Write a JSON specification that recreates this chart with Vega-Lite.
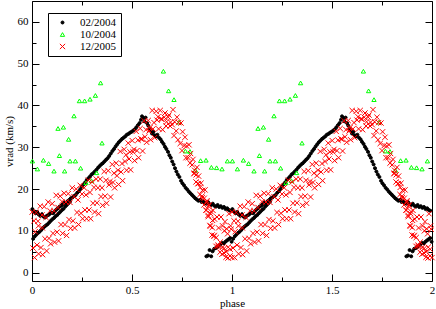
{
"$schema":"https://vega.github.io/schema/vega-lite/v6.json",
"width":400,"height":280,
"autosize":{"type":"none"},
"padding":{"left":32,"top":1,"right":4,"bottom":28},
"background":"white",
"config":{
 "font":"Liberation Serif",
 "view":{"stroke":"black","strokeWidth":1},
 "axis":{"labelFont":"Liberation Serif","titleFont":"Liberation Serif","labelFontSize":11,"titleFontSize":11,"titleFontWeight":"normal","labelColor":"black","titleColor":"black","tickColor":"black","tickWidth":1,"domain":false,"grid":false,"labelOverlap":false,"labelFlush":false},
 "legend":{"padding":4,"strokeColor":"black","fillColor":"white","labelFont":"Liberation Serif","labelFontSize":11,"labelColor":"black","rowPadding":0,"symbolOffset":5,"labelOffset":12,"symbolStrokeWidth":1,"cornerRadius":0}
},
"data":{"values":[
{"s":"02/2004","p":0.545,"v":36.6},{"s":"02/2004","p":0.550,"v":37.4},{"s":"02/2004","p":0.556,"v":37.0},{"s":"02/2004","p":0.562,"v":36.2},{"s":"02/2004","p":0.568,"v":37.1},{"s":"02/2004","p":0.575,"v":35.8},{"s":"02/2004","p":0.581,"v":35.2},{"s":"02/2004","p":0.588,"v":34.4},{"s":"02/2004","p":0.594,"v":33.9},{"s":"02/2004","p":0.600,"v":33.3},{"s":"02/2004","p":0.607,"v":33.7},{"s":"02/2004","p":0.613,"v":32.9},{"s":"02/2004","p":0.620,"v":32.6},{"s":"02/2004","p":0.627,"v":33.0},{"s":"02/2004","p":0.635,"v":32.3},{"s":"02/2004","p":0.643,"v":31.9},{"s":"02/2004","p":0.650,"v":31.3},{"s":"02/2004","p":0.658,"v":30.8},{"s":"02/2004","p":0.665,"v":30.1},{"s":"02/2004","p":0.672,"v":29.6},{"s":"02/2004","p":0.680,"v":28.9},{"s":"02/2004","p":0.687,"v":28.1},{"s":"02/2004","p":0.694,"v":27.5},{"s":"02/2004","p":0.701,"v":26.6},{"s":"02/2004","p":0.708,"v":25.9},{"s":"02/2004","p":0.715,"v":25.0},{"s":"02/2004","p":0.722,"v":24.2},{"s":"02/2004","p":0.729,"v":23.5},{"s":"02/2004","p":0.737,"v":22.9},{"s":"02/2004","p":0.745,"v":22.0},{"s":"02/2004","p":0.752,"v":21.4},{"s":"02/2004","p":0.760,"v":20.9},{"s":"02/2004","p":0.768,"v":20.3},{"s":"02/2004","p":0.776,"v":19.9},{"s":"02/2004","p":0.784,"v":19.4},{"s":"02/2004","p":0.792,"v":19.0},{"s":"02/2004","p":0.800,"v":18.6},{"s":"02/2004","p":0.808,"v":18.2},{"s":"02/2004","p":0.816,"v":17.8},{"s":"02/2004","p":0.824,"v":17.5},{"s":"02/2004","p":0.832,"v":17.2},{"s":"02/2004","p":0.840,"v":17.4},{"s":"02/2004","p":0.848,"v":16.9},{"s":"02/2004","p":0.856,"v":17.1},{"s":"02/2004","p":0.864,"v":16.7},{"s":"02/2004","p":0.872,"v":16.5},{"s":"02/2004","p":0.880,"v":16.9},{"s":"02/2004","p":0.888,"v":16.4},{"s":"02/2004","p":0.896,"v":16.2},{"s":"02/2004","p":0.904,"v":16.5},{"s":"02/2004","p":0.912,"v":16.0},{"s":"02/2004","p":0.920,"v":15.8},{"s":"02/2004","p":0.928,"v":16.2},{"s":"02/2004","p":0.936,"v":15.7},{"s":"02/2004","p":0.944,"v":15.9},{"s":"02/2004","p":0.952,"v":15.5},{"s":"02/2004","p":0.960,"v":15.7},{"s":"02/2004","p":0.968,"v":15.2},{"s":"02/2004","p":0.976,"v":15.4},{"s":"02/2004","p":0.984,"v":15.0},{"s":"02/2004","p":0.992,"v":14.8},
{"s":"02/2004","p":0.002,"v":15.2},{"s":"02/2004","p":0.010,"v":14.6},{"s":"02/2004","p":0.018,"v":14.2},{"s":"02/2004","p":0.026,"v":14.5},{"s":"02/2004","p":0.034,"v":13.9},{"s":"02/2004","p":0.042,"v":13.6},{"s":"02/2004","p":0.050,"v":14.0},{"s":"02/2004","p":0.058,"v":13.4},{"s":"02/2004","p":0.066,"v":13.2},{"s":"02/2004","p":0.074,"v":13.6},{"s":"02/2004","p":0.082,"v":13.8},{"s":"02/2004","p":0.090,"v":14.1},{"s":"02/2004","p":0.098,"v":14.4},{"s":"02/2004","p":0.106,"v":14.2},{"s":"02/2004","p":0.114,"v":14.7},{"s":"02/2004","p":0.122,"v":15.1},{"s":"02/2004","p":0.130,"v":15.4},{"s":"02/2004","p":0.138,"v":15.8},{"s":"02/2004","p":0.146,"v":16.0},{"s":"02/2004","p":0.154,"v":16.4},{"s":"02/2004","p":0.162,"v":16.8},{"s":"02/2004","p":0.170,"v":16.6},{"s":"02/2004","p":0.178,"v":17.1},{"s":"02/2004","p":0.186,"v":17.4},{"s":"02/2004","p":0.194,"v":17.8},
{"s":"02/2004","p":0.202,"v":18.0},{"s":"02/2004","p":0.210,"v":18.3},{"s":"02/2004","p":0.218,"v":18.6},{"s":"02/2004","p":0.226,"v":19.1},{"s":"02/2004","p":0.234,"v":19.5},{"s":"02/2004","p":0.242,"v":20.0},{"s":"02/2004","p":0.250,"v":20.6},{"s":"02/2004","p":0.258,"v":21.1},{"s":"02/2004","p":0.266,"v":21.6},{"s":"02/2004","p":0.274,"v":22.2},{"s":"02/2004","p":0.282,"v":22.6},{"s":"02/2004","p":0.290,"v":23.0},{"s":"02/2004","p":0.298,"v":23.5},{"s":"02/2004","p":0.306,"v":23.8},{"s":"02/2004","p":0.314,"v":24.2},{"s":"02/2004","p":0.322,"v":24.6},{"s":"02/2004","p":0.330,"v":25.1},{"s":"02/2004","p":0.338,"v":25.5},{"s":"02/2004","p":0.346,"v":25.9},{"s":"02/2004","p":0.354,"v":26.2},{"s":"02/2004","p":0.362,"v":26.6},{"s":"02/2004","p":0.370,"v":27.0},{"s":"02/2004","p":0.378,"v":27.4},{"s":"02/2004","p":0.386,"v":27.9},{"s":"02/2004","p":0.394,"v":28.5},{"s":"02/2004","p":0.402,"v":29.1},{"s":"02/2004","p":0.410,"v":29.6},{"s":"02/2004","p":0.418,"v":30.2},{"s":"02/2004","p":0.426,"v":30.7},{"s":"02/2004","p":0.434,"v":31.2},{"s":"02/2004","p":0.442,"v":31.6},{"s":"02/2004","p":0.450,"v":32.0},{"s":"02/2004","p":0.458,"v":32.3},{"s":"02/2004","p":0.466,"v":32.6},{"s":"02/2004","p":0.474,"v":33.0},{"s":"02/2004","p":0.482,"v":33.2},{"s":"02/2004","p":0.490,"v":33.5},{"s":"02/2004","p":0.498,"v":33.7},{"s":"02/2004","p":0.506,"v":34.0},{"s":"02/2004","p":0.514,"v":34.3},{"s":"02/2004","p":0.522,"v":34.8},{"s":"02/2004","p":0.530,"v":35.3},{"s":"02/2004","p":0.538,"v":35.8},
{"s":"02/2004","p":0.872,"v":3.9},{"s":"02/2004","p":0.880,"v":4.1},{"s":"02/2004","p":0.888,"v":5.4},{"s":"02/2004","p":0.896,"v":3.9},{"s":"02/2004","p":0.903,"v":5.1},{"s":"02/2004","p":0.911,"v":5.7},{"s":"02/2004","p":0.919,"v":5.9},{"s":"02/2004","p":0.927,"v":6.2},{"s":"02/2004","p":0.935,"v":6.5},{"s":"02/2004","p":0.943,"v":6.8},{"s":"02/2004","p":0.951,"v":7.1},{"s":"02/2004","p":0.959,"v":7.0},{"s":"02/2004","p":0.967,"v":7.4},{"s":"02/2004","p":0.975,"v":7.7},{"s":"02/2004","p":0.983,"v":8.0},{"s":"02/2004","p":0.991,"v":8.3},{"s":"02/2004","p":0.998,"v":7.4},{"s":"02/2004","p":0.006,"v":8.1},{"s":"02/2004","p":0.014,"v":8.7},{"s":"02/2004","p":0.022,"v":9.1},{"s":"02/2004","p":0.030,"v":9.5},{"s":"02/2004","p":0.038,"v":9.8},{"s":"02/2004","p":0.046,"v":10.2},{"s":"02/2004","p":0.054,"v":10.6},{"s":"02/2004","p":0.062,"v":11.0},{"s":"02/2004","p":0.070,"v":11.3},{"s":"02/2004","p":0.078,"v":11.6},{"s":"02/2004","p":0.086,"v":12.0},{"s":"02/2004","p":0.094,"v":12.4},{"s":"02/2004","p":0.102,"v":12.8},{"s":"02/2004","p":0.110,"v":13.1},{"s":"02/2004","p":0.118,"v":13.5},{"s":"02/2004","p":0.126,"v":13.8},{"s":"02/2004","p":0.134,"v":14.2},{"s":"02/2004","p":0.142,"v":14.6},{"s":"02/2004","p":0.150,"v":15.0},{"s":"02/2004","p":0.158,"v":15.3},{"s":"02/2004","p":0.166,"v":15.8},{"s":"02/2004","p":0.174,"v":16.2},{"s":"02/2004","p":0.182,"v":16.6},{"s":"02/2004","p":0.190,"v":17.0},
{"s":"02/2004","p":1.545,"v":36.6},{"s":"02/2004","p":1.550,"v":37.4},{"s":"02/2004","p":1.556,"v":37.0},{"s":"02/2004","p":1.562,"v":36.2},{"s":"02/2004","p":1.568,"v":37.1},{"s":"02/2004","p":1.575,"v":35.8},{"s":"02/2004","p":1.581,"v":35.2},{"s":"02/2004","p":1.588,"v":34.4},{"s":"02/2004","p":1.594,"v":33.9},{"s":"02/2004","p":1.600,"v":33.3},{"s":"02/2004","p":1.607,"v":33.7},{"s":"02/2004","p":1.613,"v":32.9},{"s":"02/2004","p":1.620,"v":32.6},{"s":"02/2004","p":1.627,"v":33.0},{"s":"02/2004","p":1.635,"v":32.3},{"s":"02/2004","p":1.643,"v":31.9},{"s":"02/2004","p":1.650,"v":31.3},{"s":"02/2004","p":1.658,"v":30.8},{"s":"02/2004","p":1.665,"v":30.1},{"s":"02/2004","p":1.672,"v":29.6},{"s":"02/2004","p":1.680,"v":28.9},{"s":"02/2004","p":1.687,"v":28.1},{"s":"02/2004","p":1.694,"v":27.5},{"s":"02/2004","p":1.701,"v":26.6},{"s":"02/2004","p":1.708,"v":25.9},{"s":"02/2004","p":1.715,"v":25.0},{"s":"02/2004","p":1.722,"v":24.2},{"s":"02/2004","p":1.729,"v":23.5},{"s":"02/2004","p":1.737,"v":22.9},{"s":"02/2004","p":1.745,"v":22.0},{"s":"02/2004","p":1.752,"v":21.4},{"s":"02/2004","p":1.760,"v":20.9},{"s":"02/2004","p":1.768,"v":20.3},{"s":"02/2004","p":1.776,"v":19.9},{"s":"02/2004","p":1.784,"v":19.4},{"s":"02/2004","p":1.792,"v":19.0},{"s":"02/2004","p":1.800,"v":18.6},{"s":"02/2004","p":1.808,"v":18.2},{"s":"02/2004","p":1.816,"v":17.8},{"s":"02/2004","p":1.824,"v":17.5},{"s":"02/2004","p":1.832,"v":17.2},{"s":"02/2004","p":1.840,"v":17.4},{"s":"02/2004","p":1.848,"v":16.9},{"s":"02/2004","p":1.856,"v":17.1},{"s":"02/2004","p":1.864,"v":16.7},{"s":"02/2004","p":1.872,"v":16.5},{"s":"02/2004","p":1.880,"v":16.9},{"s":"02/2004","p":1.888,"v":16.4},{"s":"02/2004","p":1.896,"v":16.2},{"s":"02/2004","p":1.904,"v":16.5},{"s":"02/2004","p":1.912,"v":16.0},{"s":"02/2004","p":1.920,"v":15.8},{"s":"02/2004","p":1.928,"v":16.2},{"s":"02/2004","p":1.936,"v":15.7},{"s":"02/2004","p":1.944,"v":15.9},{"s":"02/2004","p":1.952,"v":15.5},{"s":"02/2004","p":1.960,"v":15.7},{"s":"02/2004","p":1.968,"v":15.2},{"s":"02/2004","p":1.976,"v":15.4},{"s":"02/2004","p":1.984,"v":15.0},{"s":"02/2004","p":1.992,"v":14.8},
{"s":"02/2004","p":1.002,"v":15.2},{"s":"02/2004","p":1.010,"v":14.6},{"s":"02/2004","p":1.018,"v":14.2},{"s":"02/2004","p":1.026,"v":14.5},{"s":"02/2004","p":1.034,"v":13.9},{"s":"02/2004","p":1.042,"v":13.6},{"s":"02/2004","p":1.050,"v":14.0},{"s":"02/2004","p":1.058,"v":13.4},{"s":"02/2004","p":1.066,"v":13.2},{"s":"02/2004","p":1.074,"v":13.6},{"s":"02/2004","p":1.082,"v":13.8},{"s":"02/2004","p":1.090,"v":14.1},{"s":"02/2004","p":1.098,"v":14.4},{"s":"02/2004","p":1.106,"v":14.2},{"s":"02/2004","p":1.114,"v":14.7},{"s":"02/2004","p":1.122,"v":15.1},{"s":"02/2004","p":1.130,"v":15.4},{"s":"02/2004","p":1.138,"v":15.8},{"s":"02/2004","p":1.146,"v":16.0},{"s":"02/2004","p":1.154,"v":16.4},{"s":"02/2004","p":1.162,"v":16.8},{"s":"02/2004","p":1.170,"v":16.6},{"s":"02/2004","p":1.178,"v":17.1},{"s":"02/2004","p":1.186,"v":17.4},{"s":"02/2004","p":1.194,"v":17.8},
{"s":"02/2004","p":1.202,"v":18.0},{"s":"02/2004","p":1.210,"v":18.3},{"s":"02/2004","p":1.218,"v":18.6},{"s":"02/2004","p":1.226,"v":19.1},{"s":"02/2004","p":1.234,"v":19.5},{"s":"02/2004","p":1.242,"v":20.0},{"s":"02/2004","p":1.250,"v":20.6},{"s":"02/2004","p":1.258,"v":21.1},{"s":"02/2004","p":1.266,"v":21.6},{"s":"02/2004","p":1.274,"v":22.2},{"s":"02/2004","p":1.282,"v":22.6},{"s":"02/2004","p":1.290,"v":23.0},{"s":"02/2004","p":1.298,"v":23.5},{"s":"02/2004","p":1.306,"v":23.8},{"s":"02/2004","p":1.314,"v":24.2},{"s":"02/2004","p":1.322,"v":24.6},{"s":"02/2004","p":1.330,"v":25.1},{"s":"02/2004","p":1.338,"v":25.5},{"s":"02/2004","p":1.346,"v":25.9},{"s":"02/2004","p":1.354,"v":26.2},{"s":"02/2004","p":1.362,"v":26.6},{"s":"02/2004","p":1.370,"v":27.0},{"s":"02/2004","p":1.378,"v":27.4},{"s":"02/2004","p":1.386,"v":27.9},{"s":"02/2004","p":1.394,"v":28.5},{"s":"02/2004","p":1.402,"v":29.1},{"s":"02/2004","p":1.410,"v":29.6},{"s":"02/2004","p":1.418,"v":30.2},{"s":"02/2004","p":1.426,"v":30.7},{"s":"02/2004","p":1.434,"v":31.2},{"s":"02/2004","p":1.442,"v":31.6},{"s":"02/2004","p":1.450,"v":32.0},{"s":"02/2004","p":1.458,"v":32.3},{"s":"02/2004","p":1.466,"v":32.6},{"s":"02/2004","p":1.474,"v":33.0},{"s":"02/2004","p":1.482,"v":33.2},{"s":"02/2004","p":1.490,"v":33.5},{"s":"02/2004","p":1.498,"v":33.7},{"s":"02/2004","p":1.506,"v":34.0},{"s":"02/2004","p":1.514,"v":34.3},{"s":"02/2004","p":1.522,"v":34.8},{"s":"02/2004","p":1.530,"v":35.3},{"s":"02/2004","p":1.538,"v":35.8},
{"s":"02/2004","p":1.872,"v":3.9},{"s":"02/2004","p":1.880,"v":4.1},{"s":"02/2004","p":1.888,"v":5.4},{"s":"02/2004","p":1.896,"v":3.9},{"s":"02/2004","p":1.903,"v":5.1},{"s":"02/2004","p":1.911,"v":5.7},{"s":"02/2004","p":1.919,"v":5.9},{"s":"02/2004","p":1.927,"v":6.2},{"s":"02/2004","p":1.935,"v":6.5},{"s":"02/2004","p":1.943,"v":6.8},{"s":"02/2004","p":1.951,"v":7.1},{"s":"02/2004","p":1.959,"v":7.0},{"s":"02/2004","p":1.967,"v":7.4},{"s":"02/2004","p":1.975,"v":7.7},{"s":"02/2004","p":1.983,"v":8.0},{"s":"02/2004","p":1.991,"v":8.3},{"s":"02/2004","p":1.998,"v":7.4},{"s":"02/2004","p":1.006,"v":8.1},{"s":"02/2004","p":1.014,"v":8.7},{"s":"02/2004","p":1.022,"v":9.1},{"s":"02/2004","p":1.030,"v":9.5},{"s":"02/2004","p":1.038,"v":9.8},{"s":"02/2004","p":1.046,"v":10.2},{"s":"02/2004","p":1.054,"v":10.6},{"s":"02/2004","p":1.062,"v":11.0},{"s":"02/2004","p":1.070,"v":11.3},{"s":"02/2004","p":1.078,"v":11.6},{"s":"02/2004","p":1.086,"v":12.0},{"s":"02/2004","p":1.094,"v":12.4},{"s":"02/2004","p":1.102,"v":12.8},{"s":"02/2004","p":1.110,"v":13.1},{"s":"02/2004","p":1.118,"v":13.5},{"s":"02/2004","p":1.126,"v":13.8},{"s":"02/2004","p":1.134,"v":14.2},{"s":"02/2004","p":1.142,"v":14.6},{"s":"02/2004","p":1.150,"v":15.0},{"s":"02/2004","p":1.158,"v":15.3},{"s":"02/2004","p":1.166,"v":15.8},{"s":"02/2004","p":1.174,"v":16.2},{"s":"02/2004","p":1.182,"v":16.6},{"s":"02/2004","p":1.190,"v":17.0},
{"s":"10/2004","p":0.002,"v":26.7},{"s":"10/2004","p":0.027,"v":24.8},{"s":"10/2004","p":0.057,"v":26.9},{"s":"10/2004","p":0.083,"v":26.1},{"s":"10/2004","p":0.110,"v":24.3},{"s":"10/2004","p":0.130,"v":34.5},{"s":"10/2004","p":0.137,"v":28.0},{"s":"10/2004","p":0.157,"v":34.8},{"s":"10/2004","p":0.163,"v":24.3},{"s":"10/2004","p":0.183,"v":31.9},{"s":"10/2004","p":0.190,"v":26.7},{"s":"10/2004","p":0.210,"v":37.5},{"s":"10/2004","p":0.217,"v":26.7},{"s":"10/2004","p":0.237,"v":41.1},{"s":"10/2004","p":0.243,"v":25.0},{"s":"10/2004","p":0.263,"v":41.1},{"s":"10/2004","p":0.270,"v":21.5},{"s":"10/2004","p":0.290,"v":41.5},{"s":"10/2004","p":0.297,"v":22.0},{"s":"10/2004","p":0.317,"v":42.4},{"s":"10/2004","p":0.323,"v":23.9},{"s":"10/2004","p":0.343,"v":45.4},{"s":"10/2004","p":0.350,"v":31.0},{"s":"10/2004","p":0.657,"v":48.2},{"s":"10/2004","p":0.683,"v":43.5},{"s":"10/2004","p":0.710,"v":41.4},{"s":"10/2004","p":0.737,"v":36.0},{"s":"10/2004","p":0.767,"v":29.1},{"s":"10/2004","p":0.790,"v":29.0},{"s":"10/2004","p":0.817,"v":24.5},{"s":"10/2004","p":0.843,"v":26.8},{"s":"10/2004","p":0.870,"v":26.9},{"s":"10/2004","p":0.897,"v":25.2},{"s":"10/2004","p":0.923,"v":25.1},{"s":"10/2004","p":0.950,"v":24.8},{"s":"10/2004","p":0.977,"v":26.7},
{"s":"10/2004","p":1.002,"v":26.7},{"s":"10/2004","p":1.027,"v":24.8},{"s":"10/2004","p":1.057,"v":26.9},{"s":"10/2004","p":1.083,"v":26.1},{"s":"10/2004","p":1.110,"v":24.3},{"s":"10/2004","p":1.130,"v":34.5},{"s":"10/2004","p":1.137,"v":28.0},{"s":"10/2004","p":1.157,"v":34.8},{"s":"10/2004","p":1.163,"v":24.3},{"s":"10/2004","p":1.183,"v":31.9},{"s":"10/2004","p":1.190,"v":26.7},{"s":"10/2004","p":1.210,"v":37.5},{"s":"10/2004","p":1.217,"v":26.7},{"s":"10/2004","p":1.237,"v":41.1},{"s":"10/2004","p":1.243,"v":25.0},{"s":"10/2004","p":1.263,"v":41.1},{"s":"10/2004","p":1.270,"v":21.5},{"s":"10/2004","p":1.290,"v":41.5},{"s":"10/2004","p":1.297,"v":22.0},{"s":"10/2004","p":1.317,"v":42.4},{"s":"10/2004","p":1.323,"v":23.9},{"s":"10/2004","p":1.343,"v":45.4},{"s":"10/2004","p":1.350,"v":31.0},{"s":"10/2004","p":1.657,"v":48.2},{"s":"10/2004","p":1.683,"v":43.5},{"s":"10/2004","p":1.710,"v":41.4},{"s":"10/2004","p":1.737,"v":36.0},{"s":"10/2004","p":1.767,"v":29.1},{"s":"10/2004","p":1.790,"v":29.0},{"s":"10/2004","p":1.817,"v":24.5},{"s":"10/2004","p":1.843,"v":26.8},{"s":"10/2004","p":1.870,"v":26.9},{"s":"10/2004","p":1.897,"v":25.2},{"s":"10/2004","p":1.923,"v":25.1},{"s":"10/2004","p":1.950,"v":24.8},{"s":"10/2004","p":1.977,"v":26.7},
{"s":"12/2005","p":0.001,"v":14.5},{"s":"12/2005","p":0.010,"v":12.4},{"s":"12/2005","p":0.021,"v":14.4},{"s":"12/2005","p":0.030,"v":12.3},{"s":"12/2005","p":0.041,"v":15.9},{"s":"12/2005","p":0.050,"v":13.8},{"s":"12/2005","p":0.061,"v":15.8},{"s":"12/2005","p":0.070,"v":13.2},{"s":"12/2005","p":0.081,"v":16.9},{"s":"12/2005","p":0.090,"v":14.8},{"s":"12/2005","p":0.101,"v":16.5},{"s":"12/2005","p":0.110,"v":14.8},{"s":"12/2005","p":0.121,"v":18.5},{"s":"12/2005","p":0.130,"v":15.6},{"s":"12/2005","p":0.141,"v":18.3},{"s":"12/2005","p":0.150,"v":17.0},{"s":"12/2005","p":0.161,"v":19.0},{"s":"12/2005","p":0.170,"v":16.9},{"s":"12/2005","p":0.181,"v":18.9},{"s":"12/2005","p":0.190,"v":16.8},{"s":"12/2005","p":0.201,"v":20.3},{"s":"12/2005","p":0.210,"v":18.2},{"s":"12/2005","p":0.221,"v":20.0},{"s":"12/2005","p":0.230,"v":17.4},{"s":"12/2005","p":0.241,"v":20.9},{"s":"12/2005","p":0.250,"v":18.8},{"s":"12/2005","p":0.261,"v":20.3},{"s":"12/2005","p":0.270,"v":18.6},{"s":"12/2005","p":0.281,"v":22.1},{"s":"12/2005","p":0.290,"v":19.2},{"s":"12/2005","p":0.301,"v":21.7},{"s":"12/2005","p":0.310,"v":20.4},{"s":"12/2005","p":0.321,"v":22.4},{"s":"12/2005","p":0.330,"v":20.3},{"s":"12/2005","p":0.341,"v":22.4},{"s":"12/2005","p":0.350,"v":20.3},{"s":"12/2005","p":0.361,"v":24.2},{"s":"12/2005","p":0.370,"v":22.1},{"s":"12/2005","p":0.381,"v":24.4},{"s":"12/2005","p":0.390,"v":21.8},{"s":"12/2005","p":0.401,"v":25.9},{"s":"12/2005","p":0.410,"v":23.8},{"s":"12/2005","p":0.421,"v":26.2},{"s":"12/2005","p":0.430,"v":24.5},{"s":"12/2005","p":0.441,"v":29.0},{"s":"12/2005","p":0.450,"v":26.1},{"s":"12/2005","p":0.461,"v":29.5},{"s":"12/2005","p":0.470,"v":28.2},{"s":"12/2005","p":0.481,"v":31.0},{"s":"12/2005","p":0.490,"v":28.9},{"s":"12/2005","p":0.501,"v":31.6},{"s":"12/2005","p":0.510,"v":29.5},{"s":"12/2005","p":0.521,"v":33.8},{"s":"12/2005","p":0.530,"v":31.7},{"s":"12/2005","p":0.541,"v":34.5},{"s":"12/2005","p":0.550,"v":31.9},{"s":"12/2005","p":0.561,"v":36.3},{"s":"12/2005","p":0.570,"v":34.2},{"s":"12/2005","p":0.581,"v":36.4},{"s":"12/2005","p":0.590,"v":34.7},{"s":"12/2005","p":0.601,"v":38.8},{"s":"12/2005","p":0.610,"v":35.9},{"s":"12/2005","p":0.621,"v":38.6},{"s":"12/2005","p":0.630,"v":37.3},{"s":"12/2005","p":0.641,"v":38.8},{"s":"12/2005","p":0.650,"v":36.7},{"s":"12/2005","p":0.661,"v":37.2},{"s":"12/2005","p":0.670,"v":35.1},{"s":"12/2005","p":0.681,"v":37.2},{"s":"12/2005","p":0.690,"v":35.1},{"s":"12/2005","p":0.701,"v":35.4},{"s":"12/2005","p":0.710,"v":32.8},{"s":"12/2005","p":0.721,"v":33.9},{"s":"12/2005","p":0.730,"v":31.8},{"s":"12/2005","p":0.741,"v":30.9},{"s":"12/2005","p":0.750,"v":29.2},{"s":"12/2005","p":0.761,"v":30.4},{"s":"12/2005","p":0.770,"v":27.5},{"s":"12/2005","p":0.781,"v":27.5},{"s":"12/2005","p":0.790,"v":26.2},{"s":"12/2005","p":0.801,"v":25.8},{"s":"12/2005","p":0.810,"v":23.7},{"s":"12/2005","p":0.811,"v":23.8},{"s":"12/2005","p":0.820,"v":21.7},{"s":"12/2005","p":0.821,"v":23.4},{"s":"12/2005","p":0.830,"v":21.3},{"s":"12/2005","p":0.831,"v":21.3},{"s":"12/2005","p":0.840,"v":18.7},{"s":"12/2005","p":0.841,"v":20.4},{"s":"12/2005","p":0.850,"v":18.3},{"s":"12/2005","p":0.851,"v":17.9},{"s":"12/2005","p":0.860,"v":16.2},{"s":"12/2005","p":0.861,"v":17.8},{"s":"12/2005","p":0.870,"v":14.9},{"s":"12/2005","p":0.871,"v":15.0},{"s":"12/2005","p":0.880,"v":13.7},{"s":"12/2005","p":0.881,"v":13.4},{"s":"12/2005","p":0.890,"v":11.3},{"s":"12/2005","p":0.891,"v":11.1},{"s":"12/2005","p":0.900,"v":9.0},{"s":"12/2005","p":0.901,"v":10.8},{"s":"12/2005","p":0.910,"v":8.7},{"s":"12/2005","p":0.911,"v":8.9},{"s":"12/2005","p":0.920,"v":6.3},{"s":"12/2005","p":0.921,"v":8.4},{"s":"12/2005","p":0.930,"v":6.3},{"s":"12/2005","p":0.931,"v":6.6},{"s":"12/2005","p":0.940,"v":4.9},{"s":"12/2005","p":0.941,"v":7.3},{"s":"12/2005","p":0.950,"v":4.4},{"s":"12/2005","p":0.951,"v":6.0},{"s":"12/2005","p":0.960,"v":4.7},{"s":"12/2005","p":0.961,"v":5.8},{"s":"12/2005","p":0.970,"v":3.7},{"s":"12/2005","p":0.971,"v":5.0},{"s":"12/2005","p":0.980,"v":3.5},{"s":"12/2005","p":0.981,"v":6.1},{"s":"12/2005","p":0.990,"v":4.0},{"s":"12/2005","p":0.991,"v":5.6},{"s":"12/2005","p":1.000,"v":3.6},
{"s":"12/2005","p":0.005,"v":5.9},{"s":"12/2005","p":0.013,"v":3.6},{"s":"12/2005","p":0.025,"v":6.6},{"s":"12/2005","p":0.033,"v":4.5},{"s":"12/2005","p":0.045,"v":6.0},{"s":"12/2005","p":0.053,"v":4.3},{"s":"12/2005","p":0.065,"v":8.1},{"s":"12/2005","p":0.073,"v":5.2},{"s":"12/2005","p":0.085,"v":8.2},{"s":"12/2005","p":0.093,"v":6.9},{"s":"12/2005","p":0.105,"v":9.4},{"s":"12/2005","p":0.113,"v":7.3},{"s":"12/2005","p":0.125,"v":9.7},{"s":"12/2005","p":0.133,"v":7.6},{"s":"12/2005","p":0.145,"v":11.5},{"s":"12/2005","p":0.153,"v":9.4},{"s":"12/2005","p":0.165,"v":11.5},{"s":"12/2005","p":0.173,"v":8.9},{"s":"12/2005","p":0.185,"v":12.7},{"s":"12/2005","p":0.193,"v":10.6},{"s":"12/2005","p":0.205,"v":12.4},{"s":"12/2005","p":0.213,"v":10.7},{"s":"12/2005","p":0.225,"v":14.4},{"s":"12/2005","p":0.233,"v":11.5},{"s":"12/2005","p":0.245,"v":14.2},{"s":"12/2005","p":0.253,"v":12.9},{"s":"12/2005","p":0.265,"v":15.0},{"s":"12/2005","p":0.273,"v":12.9},{"s":"12/2005","p":0.285,"v":15.0},{"s":"12/2005","p":0.293,"v":12.9},{"s":"12/2005","p":0.305,"v":16.6},{"s":"12/2005","p":0.313,"v":14.5},{"s":"12/2005","p":0.325,"v":16.7},{"s":"12/2005","p":0.333,"v":14.1},{"s":"12/2005","p":0.345,"v":18.2},{"s":"12/2005","p":0.353,"v":16.1},{"s":"12/2005","p":0.365,"v":18.3},{"s":"12/2005","p":0.373,"v":16.6},{"s":"12/2005","p":0.385,"v":21.0},{"s":"12/2005","p":0.393,"v":18.1},{"s":"12/2005","p":0.405,"v":21.6},{"s":"12/2005","p":0.413,"v":20.3},{"s":"12/2005","p":0.425,"v":23.2},{"s":"12/2005","p":0.433,"v":21.1},{"s":"12/2005","p":0.445,"v":24.1},{"s":"12/2005","p":0.453,"v":22.0},{"s":"12/2005","p":0.465,"v":26.6},{"s":"12/2005","p":0.473,"v":24.5},{"s":"12/2005","p":0.485,"v":27.2},{"s":"12/2005","p":0.493,"v":24.6},{"s":"12/2005","p":0.505,"v":28.9},{"s":"12/2005","p":0.513,"v":26.8},{"s":"12/2005","p":0.525,"v":29.2},{"s":"12/2005","p":0.533,"v":27.5},{"s":"12/2005","p":0.545,"v":32.0},{"s":"12/2005","p":0.553,"v":29.1},{"s":"12/2005","p":0.565,"v":32.5},{"s":"12/2005","p":0.573,"v":31.2},{"s":"12/2005","p":0.585,"v":33.9},{"s":"12/2005","p":0.593,"v":31.8},{"s":"12/2005","p":0.605,"v":34.4},{"s":"12/2005","p":0.613,"v":32.3},{"s":"12/2005","p":0.625,"v":36.5},{"s":"12/2005","p":0.633,"v":34.4},{"s":"12/2005","p":0.645,"v":36.8},{"s":"12/2005","p":0.653,"v":34.2},{"s":"12/2005","p":0.665,"v":38.2},{"s":"12/2005","p":0.673,"v":36.1},{"s":"12/2005","p":0.685,"v":37.7},{"s":"12/2005","p":0.693,"v":36.0},{"s":"12/2005","p":0.705,"v":39.0},{"s":"12/2005","p":0.713,"v":36.1},{"s":"12/2005","p":0.725,"v":37.2},{"s":"12/2005","p":0.733,"v":35.9},{"s":"12/2005","p":0.745,"v":35.8},{"s":"12/2005","p":0.753,"v":33.7},{"s":"12/2005","p":0.765,"v":32.4},{"s":"12/2005","p":0.773,"v":30.3},{"s":"12/2005","p":0.785,"v":30.6},{"s":"12/2005","p":0.793,"v":28.5},{"s":"12/2005","p":0.805,"v":27.1},{"s":"12/2005","p":0.813,"v":24.5},{"s":"12/2005","p":0.825,"v":25.2},{"s":"12/2005","p":0.833,"v":23.1},{"s":"12/2005","p":0.845,"v":21.4},{"s":"12/2005","p":0.853,"v":19.7},{"s":"12/2005","p":0.865,"v":19.8},{"s":"12/2005","p":0.873,"v":16.9},{"s":"12/2005","p":0.875,"v":17.2},{"s":"12/2005","p":0.883,"v":15.9},{"s":"12/2005","p":0.885,"v":16.2},{"s":"12/2005","p":0.893,"v":14.1},{"s":"12/2005","p":0.895,"v":14.6},{"s":"12/2005","p":0.903,"v":12.5},{"s":"12/2005","p":0.905,"v":14.9},{"s":"12/2005","p":0.913,"v":12.8},{"s":"12/2005","p":0.925,"v":13.3},{"s":"12/2005","p":0.933,"v":10.7},{"s":"12/2005","p":0.945,"v":13.3},{"s":"12/2005","p":0.953,"v":11.2},{"s":"12/2005","p":0.965,"v":12.2},{"s":"12/2005","p":0.973,"v":10.5},{"s":"12/2005","p":0.985,"v":14.1},{"s":"12/2005","p":0.993,"v":11.2},
{"s":"12/2005","p":0.962,"v":10.0},{"s":"12/2005","p":0.978,"v":9.3},{"s":"12/2005","p":0.996,"v":10.4},{"s":"12/2005","p":0.016,"v":9.8},{"s":"12/2005","p":0.032,"v":11.2},{"s":"12/2005","p":0.052,"v":10.7},
{"s":"12/2005","p":1.001,"v":14.5},{"s":"12/2005","p":1.010,"v":12.4},{"s":"12/2005","p":1.021,"v":14.4},{"s":"12/2005","p":1.030,"v":12.3},{"s":"12/2005","p":1.041,"v":15.9},{"s":"12/2005","p":1.050,"v":13.8},{"s":"12/2005","p":1.061,"v":15.8},{"s":"12/2005","p":1.070,"v":13.2},{"s":"12/2005","p":1.081,"v":16.9},{"s":"12/2005","p":1.090,"v":14.8},{"s":"12/2005","p":1.101,"v":16.5},{"s":"12/2005","p":1.110,"v":14.8},{"s":"12/2005","p":1.121,"v":18.5},{"s":"12/2005","p":1.130,"v":15.6},{"s":"12/2005","p":1.141,"v":18.3},{"s":"12/2005","p":1.150,"v":17.0},{"s":"12/2005","p":1.161,"v":19.0},{"s":"12/2005","p":1.170,"v":16.9},{"s":"12/2005","p":1.181,"v":18.9},{"s":"12/2005","p":1.190,"v":16.8},{"s":"12/2005","p":1.201,"v":20.3},{"s":"12/2005","p":1.210,"v":18.2},{"s":"12/2005","p":1.221,"v":20.0},{"s":"12/2005","p":1.230,"v":17.4},{"s":"12/2005","p":1.241,"v":20.9},{"s":"12/2005","p":1.250,"v":18.8},{"s":"12/2005","p":1.261,"v":20.3},{"s":"12/2005","p":1.270,"v":18.6},{"s":"12/2005","p":1.281,"v":22.1},{"s":"12/2005","p":1.290,"v":19.2},{"s":"12/2005","p":1.301,"v":21.7},{"s":"12/2005","p":1.310,"v":20.4},{"s":"12/2005","p":1.321,"v":22.4},{"s":"12/2005","p":1.330,"v":20.3},{"s":"12/2005","p":1.341,"v":22.4},{"s":"12/2005","p":1.350,"v":20.3},{"s":"12/2005","p":1.361,"v":24.2},{"s":"12/2005","p":1.370,"v":22.1},{"s":"12/2005","p":1.381,"v":24.4},{"s":"12/2005","p":1.390,"v":21.8},{"s":"12/2005","p":1.401,"v":25.9},{"s":"12/2005","p":1.410,"v":23.8},{"s":"12/2005","p":1.421,"v":26.2},{"s":"12/2005","p":1.430,"v":24.5},{"s":"12/2005","p":1.441,"v":29.0},{"s":"12/2005","p":1.450,"v":26.1},{"s":"12/2005","p":1.461,"v":29.5},{"s":"12/2005","p":1.470,"v":28.2},{"s":"12/2005","p":1.481,"v":31.0},{"s":"12/2005","p":1.490,"v":28.9},{"s":"12/2005","p":1.501,"v":31.6},{"s":"12/2005","p":1.510,"v":29.5},{"s":"12/2005","p":1.521,"v":33.8},{"s":"12/2005","p":1.530,"v":31.7},{"s":"12/2005","p":1.541,"v":34.5},{"s":"12/2005","p":1.550,"v":31.9},{"s":"12/2005","p":1.561,"v":36.3},{"s":"12/2005","p":1.570,"v":34.2},{"s":"12/2005","p":1.581,"v":36.4},{"s":"12/2005","p":1.590,"v":34.7},{"s":"12/2005","p":1.601,"v":38.8},{"s":"12/2005","p":1.610,"v":35.9},{"s":"12/2005","p":1.621,"v":38.6},{"s":"12/2005","p":1.630,"v":37.3},{"s":"12/2005","p":1.641,"v":38.8},{"s":"12/2005","p":1.650,"v":36.7},{"s":"12/2005","p":1.661,"v":37.2},{"s":"12/2005","p":1.670,"v":35.1},{"s":"12/2005","p":1.681,"v":37.2},{"s":"12/2005","p":1.690,"v":35.1},{"s":"12/2005","p":1.701,"v":35.4},{"s":"12/2005","p":1.710,"v":32.8},{"s":"12/2005","p":1.721,"v":33.9},{"s":"12/2005","p":1.730,"v":31.8},{"s":"12/2005","p":1.741,"v":30.9},{"s":"12/2005","p":1.750,"v":29.2},{"s":"12/2005","p":1.761,"v":30.4},{"s":"12/2005","p":1.770,"v":27.5},{"s":"12/2005","p":1.781,"v":27.5},{"s":"12/2005","p":1.790,"v":26.2},{"s":"12/2005","p":1.801,"v":25.8},{"s":"12/2005","p":1.810,"v":23.7},{"s":"12/2005","p":1.811,"v":23.8},{"s":"12/2005","p":1.820,"v":21.7},{"s":"12/2005","p":1.821,"v":23.4},{"s":"12/2005","p":1.830,"v":21.3},{"s":"12/2005","p":1.831,"v":21.3},{"s":"12/2005","p":1.840,"v":18.7},{"s":"12/2005","p":1.841,"v":20.4},{"s":"12/2005","p":1.850,"v":18.3},{"s":"12/2005","p":1.851,"v":17.9},{"s":"12/2005","p":1.860,"v":16.2},{"s":"12/2005","p":1.861,"v":17.8},{"s":"12/2005","p":1.870,"v":14.9},{"s":"12/2005","p":1.871,"v":15.0},{"s":"12/2005","p":1.880,"v":13.7},{"s":"12/2005","p":1.881,"v":13.4},{"s":"12/2005","p":1.890,"v":11.3},{"s":"12/2005","p":1.891,"v":11.1},{"s":"12/2005","p":1.900,"v":9.0},{"s":"12/2005","p":1.901,"v":10.8},{"s":"12/2005","p":1.910,"v":8.7},{"s":"12/2005","p":1.911,"v":8.9},{"s":"12/2005","p":1.920,"v":6.3},{"s":"12/2005","p":1.921,"v":8.4},{"s":"12/2005","p":1.930,"v":6.3},{"s":"12/2005","p":1.931,"v":6.6},{"s":"12/2005","p":1.940,"v":4.9},{"s":"12/2005","p":1.941,"v":7.3},{"s":"12/2005","p":1.950,"v":4.4},{"s":"12/2005","p":1.951,"v":6.0},{"s":"12/2005","p":1.960,"v":4.7},{"s":"12/2005","p":1.961,"v":5.8},{"s":"12/2005","p":1.970,"v":3.7},{"s":"12/2005","p":1.971,"v":5.0},{"s":"12/2005","p":1.980,"v":3.5},{"s":"12/2005","p":1.981,"v":6.1},{"s":"12/2005","p":1.990,"v":4.0},{"s":"12/2005","p":1.991,"v":5.6},{"s":"12/2005","p":2.000,"v":3.6},
{"s":"12/2005","p":1.005,"v":5.9},{"s":"12/2005","p":1.013,"v":3.6},{"s":"12/2005","p":1.025,"v":6.6},{"s":"12/2005","p":1.033,"v":4.5},{"s":"12/2005","p":1.045,"v":6.0},{"s":"12/2005","p":1.053,"v":4.3},{"s":"12/2005","p":1.065,"v":8.1},{"s":"12/2005","p":1.073,"v":5.2},{"s":"12/2005","p":1.085,"v":8.2},{"s":"12/2005","p":1.093,"v":6.9},{"s":"12/2005","p":1.105,"v":9.4},{"s":"12/2005","p":1.113,"v":7.3},{"s":"12/2005","p":1.125,"v":9.7},{"s":"12/2005","p":1.133,"v":7.6},{"s":"12/2005","p":1.145,"v":11.5},{"s":"12/2005","p":1.153,"v":9.4},{"s":"12/2005","p":1.165,"v":11.5},{"s":"12/2005","p":1.173,"v":8.9},{"s":"12/2005","p":1.185,"v":12.7},{"s":"12/2005","p":1.193,"v":10.6},{"s":"12/2005","p":1.205,"v":12.4},{"s":"12/2005","p":1.213,"v":10.7},{"s":"12/2005","p":1.225,"v":14.4},{"s":"12/2005","p":1.233,"v":11.5},{"s":"12/2005","p":1.245,"v":14.2},{"s":"12/2005","p":1.253,"v":12.9},{"s":"12/2005","p":1.265,"v":15.0},{"s":"12/2005","p":1.273,"v":12.9},{"s":"12/2005","p":1.285,"v":15.0},{"s":"12/2005","p":1.293,"v":12.9},{"s":"12/2005","p":1.305,"v":16.6},{"s":"12/2005","p":1.313,"v":14.5},{"s":"12/2005","p":1.325,"v":16.7},{"s":"12/2005","p":1.333,"v":14.1},{"s":"12/2005","p":1.345,"v":18.2},{"s":"12/2005","p":1.353,"v":16.1},{"s":"12/2005","p":1.365,"v":18.3},{"s":"12/2005","p":1.373,"v":16.6},{"s":"12/2005","p":1.385,"v":21.0},{"s":"12/2005","p":1.393,"v":18.1},{"s":"12/2005","p":1.405,"v":21.6},{"s":"12/2005","p":1.413,"v":20.3},{"s":"12/2005","p":1.425,"v":23.2},{"s":"12/2005","p":1.433,"v":21.1},{"s":"12/2005","p":1.445,"v":24.1},{"s":"12/2005","p":1.453,"v":22.0},{"s":"12/2005","p":1.465,"v":26.6},{"s":"12/2005","p":1.473,"v":24.5},{"s":"12/2005","p":1.485,"v":27.2},{"s":"12/2005","p":1.493,"v":24.6},{"s":"12/2005","p":1.505,"v":28.9},{"s":"12/2005","p":1.513,"v":26.8},{"s":"12/2005","p":1.525,"v":29.2},{"s":"12/2005","p":1.533,"v":27.5},{"s":"12/2005","p":1.545,"v":32.0},{"s":"12/2005","p":1.553,"v":29.1},{"s":"12/2005","p":1.565,"v":32.5},{"s":"12/2005","p":1.573,"v":31.2},{"s":"12/2005","p":1.585,"v":33.9},{"s":"12/2005","p":1.593,"v":31.8},{"s":"12/2005","p":1.605,"v":34.4},{"s":"12/2005","p":1.613,"v":32.3},{"s":"12/2005","p":1.625,"v":36.5},{"s":"12/2005","p":1.633,"v":34.4},{"s":"12/2005","p":1.645,"v":36.8},{"s":"12/2005","p":1.653,"v":34.2},{"s":"12/2005","p":1.665,"v":38.2},{"s":"12/2005","p":1.673,"v":36.1},{"s":"12/2005","p":1.685,"v":37.7},{"s":"12/2005","p":1.693,"v":36.0},{"s":"12/2005","p":1.705,"v":39.0},{"s":"12/2005","p":1.713,"v":36.1},{"s":"12/2005","p":1.725,"v":37.2},{"s":"12/2005","p":1.733,"v":35.9},{"s":"12/2005","p":1.745,"v":35.8},{"s":"12/2005","p":1.753,"v":33.7},{"s":"12/2005","p":1.765,"v":32.4},{"s":"12/2005","p":1.773,"v":30.3},{"s":"12/2005","p":1.785,"v":30.6},{"s":"12/2005","p":1.793,"v":28.5},{"s":"12/2005","p":1.805,"v":27.1},{"s":"12/2005","p":1.813,"v":24.5},{"s":"12/2005","p":1.825,"v":25.2},{"s":"12/2005","p":1.833,"v":23.1},{"s":"12/2005","p":1.845,"v":21.4},{"s":"12/2005","p":1.853,"v":19.7},{"s":"12/2005","p":1.865,"v":19.8},{"s":"12/2005","p":1.873,"v":16.9},{"s":"12/2005","p":1.875,"v":17.2},{"s":"12/2005","p":1.883,"v":15.9},{"s":"12/2005","p":1.885,"v":16.2},{"s":"12/2005","p":1.893,"v":14.1},{"s":"12/2005","p":1.895,"v":14.6},{"s":"12/2005","p":1.903,"v":12.5},{"s":"12/2005","p":1.905,"v":14.9},{"s":"12/2005","p":1.913,"v":12.8},{"s":"12/2005","p":1.925,"v":13.3},{"s":"12/2005","p":1.933,"v":10.7},{"s":"12/2005","p":1.945,"v":13.3},{"s":"12/2005","p":1.953,"v":11.2},{"s":"12/2005","p":1.965,"v":12.2},{"s":"12/2005","p":1.973,"v":10.5},{"s":"12/2005","p":1.985,"v":14.1},{"s":"12/2005","p":1.993,"v":11.2},
{"s":"12/2005","p":1.962,"v":10.0},{"s":"12/2005","p":1.978,"v":9.3},{"s":"12/2005","p":1.996,"v":10.4},{"s":"12/2005","p":1.016,"v":9.8},{"s":"12/2005","p":1.032,"v":11.2},{"s":"12/2005","p":1.052,"v":10.7}
]},
"layer":[
 {
  "mark":{"type":"point","filled":true,"opacity":1,"strokeWidth":1},
  "encoding":{
   "x":{"field":"p","type":"quantitative","scale":{"domain":[0,2],"nice":false,"zero":false},
        "axis":{"orient":"bottom","values":[0,0.25,0.5,0.75,1,1.25,1.5,1.75,2],"format":"~g","labelExpr":"datum.value % 0.5 == 0 ? datum.label : ''","tickSize":{"condition":{"test":"datum.value % 0.5 == 0","value":-7},"value":-4},"labelPadding":10,"title":"phase","titlePadding":-1}},
   "y":{"field":"v","type":"quantitative","scale":{"domain":[-2,65],"nice":false,"zero":false},
        "axis":{"orient":"left","values":[0,5,10,15,20,25,30,35,40,45,50,55,60],"labelExpr":"datum.value % 10 == 0 ? datum.label : ''","tickSize":{"condition":{"test":"datum.value % 10 == 0","value":-7},"value":-4},"labelPadding":11,"title":"vrad (km/s)","titlePadding":3}},
   "shape":{"field":"s","type":"nominal","scale":{"domain":["02/2004","10/2004","12/2005"],"range":["circle","triangle-up","M-1,-1L1,1M1,-1L-1,1"]},"legend":{"title":null,"orient":"none","legendX":16,"legendY":12}},
   "fill":{"field":"s","type":"nominal","scale":{"domain":["02/2004","10/2004","12/2005"],"range":["#000000","transparent","transparent"]},"legend":{"title":null,"orient":"none","legendX":16,"legendY":12}},
   "stroke":{"field":"s","type":"nominal","scale":{"domain":["02/2004","10/2004","12/2005"],"range":["#000000","#00ff00","#ff0000"]},"legend":{"title":null,"orient":"none","legendX":16,"legendY":12}},
   "size":{"field":"s","type":"nominal","scale":{"domain":["02/2004","10/2004","12/2005"],"range":[9,28,18]},"legend":{"title":null,"orient":"none","legendX":16,"legendY":12}}
  }
 },
 {
  "mark":{"type":"point","opacity":0},
  "encoding":{
   "x":{"field":"p","type":"quantitative","axis":{"orient":"top","values":[0,0.25,0.5,0.75,1,1.25,1.5,1.75,2],"labels":false,"title":null,"tickSize":{"condition":{"test":"datum.value % 0.5 == 0","value":-7},"value":-4}}},
   "y":{"field":"v","type":"quantitative","axis":{"orient":"right","values":[0,5,10,15,20,25,30,35,40,45,50,55,60],"labels":false,"title":null,"tickSize":{"condition":{"test":"datum.value % 10 == 0","value":-7},"value":-4}}}
  }
 }
],
"resolve":{"axis":{"x":"independent","y":"independent"}}
}
